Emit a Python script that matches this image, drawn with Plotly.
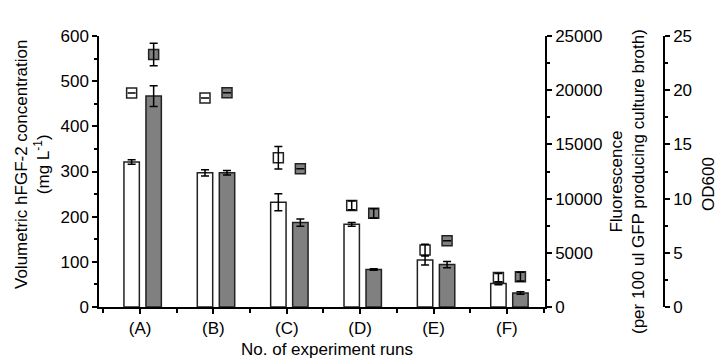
import plotly.graph_objects as go

# ---- data ----
categories = ["(A)", "(B)", "(C)", "(D)", "(E)", "(F)"]
hfgf_white = [321, 297, 232, 183, 104, 52]
hfgf_white_err = [5, 7, 19, 4, 11, 3]
hfgf_grey = [467, 297, 187, 83, 94, 31]
hfgf_grey_err = [23, 5, 8, 1.5, 7, 3]
fluorescence = [19750, 19280, 13770, 9375, 5250, 2710]
fluorescence_err = [None, None, 1030, 400, 540, 390]
od600 = [23.3, 19.77, 12.76, 8.64, 6.12, 2.8]
od600_err = [1.04, None, None, 0.43, None, 0.4]

# ---- style / geometry ----
W, H = 719, 358
L, R, T, B = 99, 10, 36, 51
PW = W - L - R
PH = H - T - B
X_END = (545 - L) / PW
OD_POS = (664 - L) / PW
FONT = "Liberation Sans, Arial, sans-serif"
GREY = "#808080"
EDGE = "#222222"
BAR_W = 0.21
WHITE_OFF = -0.22
GREY_OFF = 0.08
WHITE_C = WHITE_OFF + BAR_W / 2
GREY_C = GREY_OFF + BAR_W / 2

idx = list(range(len(categories)))
err_style = dict(type="data", color="black", thickness=1.5, width=4)


def px(xp):
    return (xp - L) / PW


def py(yp):
    return (H - B - yp) / PH


fig = go.Figure()
fig.add_bar(x=idx, y=hfgf_white, offset=WHITE_OFF, width=BAR_W,
            marker=dict(color="white", line=dict(color=EDGE, width=1.5)),
            error_y=dict(array=hfgf_white_err, **err_style), showlegend=False)
fig.add_bar(x=idx, y=hfgf_grey, offset=GREY_OFF, width=BAR_W,
            marker=dict(color=GREY, line=dict(color=EDGE, width=1.5)),
            error_y=dict(array=hfgf_grey_err, **err_style), showlegend=False)

xw = [i + WHITE_C for i in idx]
xg = [i + GREY_C for i in idx]
fig.add_scatter(x=xw, y=fluorescence, yaxis="y2", mode="markers",
                marker=dict(symbol="square", size=10, color="white",
                            line=dict(color=EDGE, width=1.5)), showlegend=False)
fig.add_scatter(x=xw, y=fluorescence, yaxis="y2", mode="markers",
                marker=dict(size=1, opacity=0),
                error_y=dict(array=fluorescence_err, **err_style), showlegend=False)
fig.add_scatter(x=xg, y=od600, yaxis="y3", mode="markers",
                marker=dict(symbol="square", size=10, color=GREY,
                            line=dict(color=EDGE, width=1.5)), showlegend=False)
fig.add_scatter(x=xg, y=od600, yaxis="y3", mode="markers",
                marker=dict(size=1, opacity=0),
                error_y=dict(array=od600_err, **err_style), showlegend=False)

axis_common = dict(showline=True, linecolor="black", linewidth=1.5,
                   ticks="outside", ticklen=5, tickwidth=1.5, tickcolor="black",
                   showgrid=False, zeroline=False,
                   tickfont=dict(family=FONT, size=17, color="black"))

fig.update_layout(
    width=W, height=H,
    margin=dict(l=L, r=R, t=T, b=B, pad=0),
    paper_bgcolor="white", plot_bgcolor="white",
    barmode="overlay",
    font=dict(family=FONT, size=17, color="black"),
    xaxis=dict(domain=[0, X_END], range=[-0.56, 5.52],
               tickmode="array", tickvals=idx, ticktext=categories,
               minor=dict(tickmode="array", tickvals=[i - 0.5 for i in idx] + [len(idx) - 0.5],
                          ticks="outside", ticklen=4, tickwidth=1.5, tickcolor="black"),
               **axis_common),
    yaxis=dict(range=[0, 600], dtick=100, tick0=0, tickformat="d",
               minor=dict(dtick=50, ticks="outside", ticklen=3, tickwidth=1.5, tickcolor="black"),
               **axis_common),
    yaxis2=dict(overlaying="y", side="right", anchor="x", range=[0, 25000], dtick=5000, tick0=0,
                tickformat="d",
                minor=dict(dtick=2500, ticks="outside", ticklen=3, tickwidth=1.5, tickcolor="black"),
                **axis_common),
    yaxis3=dict(overlaying="y", side="right", anchor="free", position=OD_POS,
                range=[0, 25], dtick=5, tick0=0, tickformat="d",
                minor=dict(dtick=2.5, ticks="outside", ticklen=3, tickwidth=1.5, tickcolor="black"),
                **axis_common),
)

ann_font = dict(family=FONT, size=17, color="black")
fig.add_annotation(text="Volumetric hFGF-2 concentration<br>(mg L<sup>-1</sup>)",
                   xref="paper", yref="paper", x=px(32), y=py(165), textangle=-90,
                   showarrow=False, xanchor="center", yanchor="middle", font=ann_font)
fig.add_annotation(text="Fluorescence<br>(per 100 ul GFP producing culture broth)",
                   xref="paper", yref="paper", x=px(627), y=py(182), textangle=-90,
                   showarrow=False, xanchor="center", yanchor="middle", font=ann_font)
fig.add_annotation(text="OD600",
                   xref="paper", yref="paper", x=px(709), y=py(184), textangle=-90,
                   showarrow=False, xanchor="center", yanchor="middle", font=ann_font)
fig.add_annotation(text="No. of experiment runs",
                   xref="paper", yref="paper", x=px(327), y=py(349),
                   showarrow=False, xanchor="center", yanchor="middle", font=ann_font)

fig.write_html("out.html")
